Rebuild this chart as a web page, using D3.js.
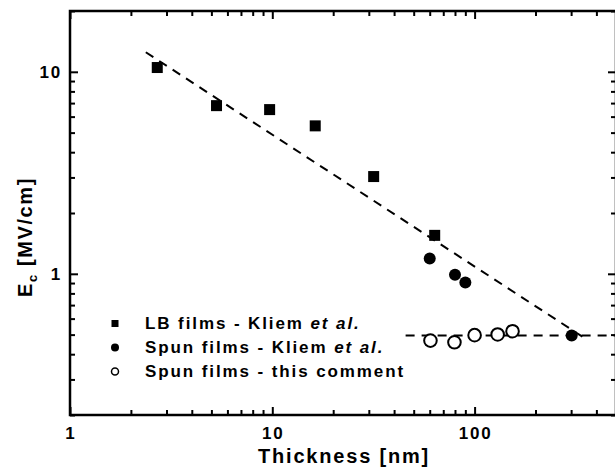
<!DOCTYPE html>
<html>
<head>
<meta charset="utf-8">
<script src="https://cdn.jsdelivr.net/npm/d3@7"></script>
<style>
  body { margin: 0; background: #fff; }
  svg text {
    font-family: "Liberation Sans", Arial, sans-serif;
    font-weight: bold;
    fill: #000;
  }
</style>
</head>
<body>
<svg id="chart" width="615" height="476"></svg>
<script>
// LB films - Kliem et al. (thickness nm, Ec MV/cm)
var lbThickness = [2.7, 5.3, 9.7, 16.3, 31.7, 63.5];
var lbField = [10.5, 6.8, 6.5, 5.4, 3.03, 1.55];

// Spun films - Kliem et al.
var spunKliemThickness = [60, 80, 90, 302];
var spunKliemField = [1.19, 0.99, 0.905, 0.495];

// Spun films - this comment
var spunThisThickness = [60.5, 79.5, 100, 130, 154];
var spunThisField = [0.467, 0.458, 0.497, 0.501, 0.52];

// dashed guide lines
var fitThickness = [2.37, 350];
var fitField = [12.5, 0.48];
var flatThickness = [45.6, 500];
var flatField = [0.495, 0.495];

var xTicks = [1, 10, 100];
var yTicks = [1, 10];

var legendLabels = [
  ['LB films - Kliem ', 'et al.'],
  ['Spun films - Kliem ', 'et al.'],
  ['Spun films - this comment', '']
];

var svg = d3.select('#chart');

// plot box (window.top is reserved, so no bare "top")
var box = { left: 70, right: 616, top: 11, bottom: 415 };

var x = d3.scaleLog().domain([1, 500]).range([box.left, box.right]);
var y = d3.scaleLog().domain([0.2, 20]).range([box.bottom, box.top]);

function minors(lo, hi) {
  var out = [];
  for (var p = Math.floor(Math.log10(lo)); p <= Math.ceil(Math.log10(hi)); p++) {
    for (var k = 2; k <= 9; k++) {
      var v = k * Math.pow(10, p);
      if (v >= lo - 1e-9 && v <= hi + 1e-9) out.push(v);
    }
  }
  return out;
}

var xMinor = minors(1, 500);
var yMinor = minors(0.2, 20);

function styleAxis(g) {
  g.select('.domain').remove();
  g.selectAll('line').attr('stroke', '#000').attr('stroke-width', 2);
  g.selectAll('text').remove();
}

// ticks, all pointing inward
svg.append('g').attr('transform', 'translate(0,' + box.bottom + ')')
  .call(d3.axisBottom(x).tickValues(xTicks).tickSize(-8)).call(styleAxis);
svg.append('g').attr('transform', 'translate(0,' + box.bottom + ')')
  .call(d3.axisBottom(x).tickValues(xMinor).tickSize(-5)).call(styleAxis);
svg.append('g').attr('transform', 'translate(0,' + box.top + ')')
  .call(d3.axisTop(x).tickValues(xTicks).tickSize(-8)).call(styleAxis);
svg.append('g').attr('transform', 'translate(0,' + box.top + ')')
  .call(d3.axisTop(x).tickValues(xMinor).tickSize(-5)).call(styleAxis);
svg.append('g').attr('transform', 'translate(' + box.left + ',0)')
  .call(d3.axisLeft(y).tickValues(yTicks).tickSize(-8)).call(styleAxis);
svg.append('g').attr('transform', 'translate(' + box.left + ',0)')
  .call(d3.axisLeft(y).tickValues(yMinor).tickSize(-5)).call(styleAxis);
svg.append('g').attr('transform', 'translate(' + box.right + ',0)')
  .call(d3.axisRight(y).tickValues(yTicks).tickSize(-8)).call(styleAxis);
svg.append('g').attr('transform', 'translate(' + box.right + ',0)')
  .call(d3.axisRight(y).tickValues(yMinor).tickSize(-5)).call(styleAxis);

// frame
svg.append('rect')
  .attr('x', box.left).attr('y', box.top)
  .attr('width', box.right - box.left).attr('height', box.bottom - box.top)
  .attr('fill', 'none').attr('stroke', '#000').attr('stroke-width', 2.5);

// tick labels
svg.selectAll('.xlab').data(xTicks).enter().append('text')
  .attr('class', 'xlab')
  .attr('x', function(d) { return x(d) + 1; })
  .attr('y', 439)
  .attr('text-anchor', 'middle')
  .style('font-size', '17px')
  .style('letter-spacing', '1.8px')
  .text(function(d) { return d; });

svg.selectAll('.ylab').data(yTicks).enter().append('text')
  .attr('class', 'ylab')
  .attr('x', 62)
  .attr('y', function(d) { return y(d) + 6; })
  .attr('text-anchor', 'end')
  .style('font-size', '17px')
  .style('letter-spacing', '1.8px')
  .text(function(d) { return d; });

// axis titles
svg.append('text')
  .attr('x', 344).attr('y', 463)
  .attr('text-anchor', 'middle')
  .style('font-size', '20px')
  .style('letter-spacing', '1.8px')
  .text('Thickness [nm]');

var yt = svg.append('text')
  .attr('transform', 'translate(32,237) rotate(-90)')
  .attr('text-anchor', 'middle')
  .style('font-size', '20px')
  .style('letter-spacing', '1.6px');
yt.append('tspan').text('E');
yt.append('tspan').attr('dy', 5).style('font-size', '13px').text('c');
yt.append('tspan').attr('dy', -5).text(' [MV/cm]');

// dashed lines
var line = d3.line()
  .x(function(d) { return x(d[0]); })
  .y(function(d) { return y(d[1]); });

svg.append('path')
  .datum(d3.zip(fitThickness, fitField))
  .attr('d', line)
  .attr('fill', 'none').attr('stroke', '#000')
  .attr('stroke-width', 2).attr('stroke-dasharray', '9,7');

svg.append('path')
  .datum(d3.zip(flatThickness, flatField))
  .attr('d', line)
  .attr('fill', 'none').attr('stroke', '#000')
  .attr('stroke-width', 2).attr('stroke-dasharray', '9,7');

// LB squares
svg.selectAll('rect.lb').data(d3.zip(lbThickness, lbField)).enter().append('rect')
  .attr('class', 'lb')
  .attr('x', function(d) { return x(d[0]) - 5.5; })
  .attr('y', function(d) { return y(d[1]) - 5.5; })
  .attr('width', 11).attr('height', 11)
  .attr('fill', '#000');

// spun Kliem filled circles
svg.selectAll('circle.sk').data(d3.zip(spunKliemThickness, spunKliemField)).enter().append('circle')
  .attr('class', 'sk')
  .attr('cx', function(d) { return x(d[0]); })
  .attr('cy', function(d) { return y(d[1]); })
  .attr('r', 6)
  .attr('fill', '#000');

// spun this comment open circles
svg.selectAll('circle.st').data(d3.zip(spunThisThickness, spunThisField)).enter().append('circle')
  .attr('class', 'st')
  .attr('cx', function(d) { return x(d[0]); })
  .attr('cy', function(d) { return y(d[1]); })
  .attr('r', 6.3)
  .attr('fill', '#fff').attr('stroke', '#000').attr('stroke-width', 2);

// legend
var legend = svg.append('g');
var rowY = [323.5, 347.5, 371.5];

legend.append('rect')
  .attr('x', 111.5).attr('y', rowY[0] - 3.5)
  .attr('width', 7).attr('height', 7).attr('fill', '#000');
legend.append('circle')
  .attr('cx', 115).attr('cy', rowY[1]).attr('r', 4).attr('fill', '#000');
legend.append('circle')
  .attr('cx', 115).attr('cy', rowY[2]).attr('r', 3.5)
  .attr('fill', '#fff').attr('stroke', '#000').attr('stroke-width', 1.5);

legend.selectAll('text').data(legendLabels).enter().append('text')
  .attr('x', 145)
  .attr('y', function(d, i) { return rowY[i] + 5.5; })
  .style('font-size', '17px')
  .style('letter-spacing', '1.9px')
  .each(function(d) {
    var t = d3.select(this);
    t.append('tspan').attr('xml:space', 'preserve').text(d[0]);
    if (d[1]) t.append('tspan').style('font-style', 'italic').text(d[1]);
  });
</script>
</body>
</html>
